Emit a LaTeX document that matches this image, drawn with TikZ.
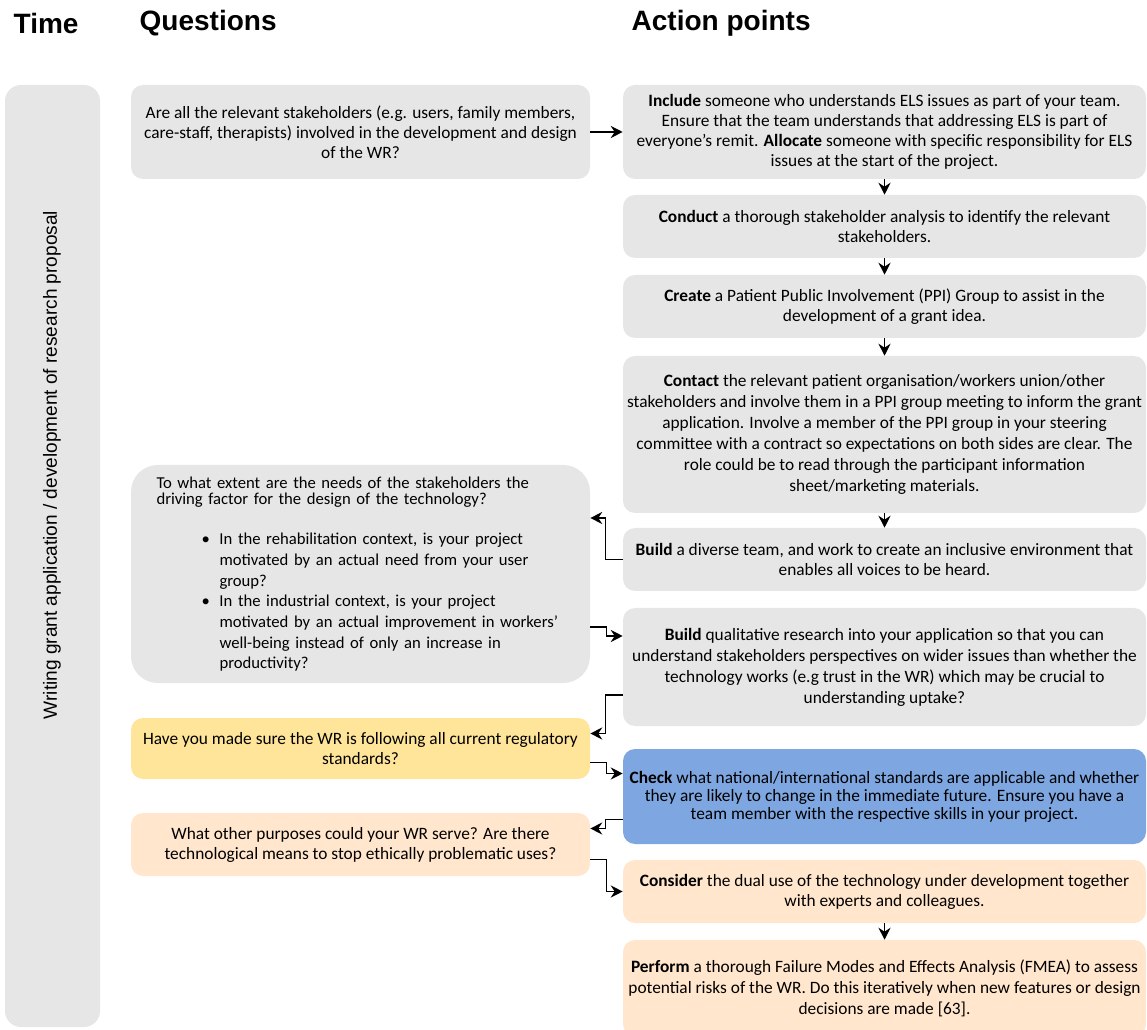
\documentclass[tikz,border=0pt]{standalone}
\usepackage{fontspec}
\setmainfont{Carlito}
\newfontfamily\headfont{Liberation Sans}
\usetikzlibrary{arrows.meta,calc}
\definecolor{boxgray}{HTML}{E6E6E6}
\definecolor{boxyellow}{HTML}{FFE599}
\definecolor{boxpeach}{HTML}{FFE6CC}
\definecolor{boxblue}{HTML}{7EA6E0}

\begin{document}
\begin{tikzpicture}[x=0.75pt,y=-0.75pt,
		box/.style={rounded corners=9pt, align=center, inner sep=0pt, font=\fontsize{13}{15}\selectfont},
		qbox/.style={box, minimum width=344.25pt},
		abox/.style={box, minimum width=392.25pt},
		head/.style={anchor=west, font=\headfont\fontsize{21}{25}\bfseries\selectfont},
		link/.style={-{Stealth[length=9pt,width=9pt,inset=3pt]}, line width=0.9pt}]
		\useasboundingbox (0,0) rectangle (1147,1030);

		% column headings
		\node[head] (timehead) at (9,23) {Time};
		\node[head] (qhead) at (135,23) {Questions};
		\node[head] (ahead) at (627,23) {Action points};

		% time column
		\node[fill=boxgray, rounded corners=12pt, minimum width=71.25pt, minimum height=706.5pt] (time) at (52.5,556) {};
		\node[rotate=90, font=\headfont\fontsize{14.3}{16}\selectfont] (phase) at (52,465) {Writing grant application / development of research proposal};

		% questions
		\node[qbox, fill=boxgray, minimum height=70.5pt] (q1) at (360.5,132)
			{Are all the relevant stakeholders (e.g. users, family members,\\ care-staff, therapists) involved in the development and design\\ of the WR?};
		\node[qbox, fill=boxgray, rounded corners=20pt, minimum height=163.5pt, align=left, text width=306pt,
			font=\fontsize{12.5}{15.5}\selectfont] (q2) at (360.5,574)
			{To what extent are the needs of the stakeholders the\\[-3.5pt]
			driving factor for the design of the technology?\\[15pt]
			\hspace*{33.75pt}\makebox[13.5pt][l]{\textbullet}In the rehabilitation context, is your project\\
			\hspace*{47.25pt}motivated by an actual need from your user\\
			\hspace*{47.25pt}group?\\
			\hspace*{33.75pt}\makebox[13.5pt][l]{\textbullet}In the industrial context, is your project\\
			\hspace*{47.25pt}motivated by an actual improvement in workers’\\
			\hspace*{47.25pt}well-being instead of only an increase in\\
			\hspace*{47.25pt}productivity?};
		\node[qbox, fill=boxyellow, minimum height=45.75pt] (q3) at (360.5,748.5)
			{Have you made sure the WR is following all current regulatory\\ standards?};
		\node[qbox, fill=boxpeach, minimum height=47.25pt] (q4) at (360.5,844.5)
			{What other purposes could your WR serve? Are there\\ technological means to stop ethically problematic uses?};

		% action points
		\node[abox, fill=boxgray, minimum height=70.5pt] (a1) at (884.5,132)
			{\textbf{Include} someone who understands ELS issues as part of your team.\\ Ensure that the team understands that addressing ELS is part of\\ everyone’s remit. \textbf{Allocate} someone with specific responsibility for ELS\\ issues at the start of the project.};
		\node[abox, fill=boxgray, minimum height=47.25pt] (a2) at (884.5,226.5)
			{\textbf{Conduct} a thorough stakeholder analysis to identify the relevant\\ stakeholders.};
		\node[abox, fill=boxgray, minimum height=47.25pt] (a3) at (884.5,306.5)
			{\textbf{Create} a Patient Public Involvement (PPI) Group to assist in the\\ development of a grant idea.};
		\node[abox, fill=boxgray, minimum height=117.75pt, font=\fontsize{13}{15.75}\selectfont] (a4) at (884.5,434.5)
			{\textbf{Contact} the relevant patient organisation/workers union/other\\ stakeholders and involve them in a PPI group meeting to inform the grant\\ application. Involve a member of the PPI group in your steering\\ committee with a contract so expectations on both sides are clear. The\\ role could be to read through the participant information\\ sheet/marketing materials.};
		\node[abox, fill=boxgray, minimum height=47.25pt] (a5) at (884.5,559.5)
			{\textbf{Build} a diverse team, and work to create an inclusive environment that\\ enables all voices to be heard.};
		\node[abox, fill=boxgray, minimum height=88.5pt, font=\fontsize{13}{15.75}\selectfont] (a6) at (884.5,667)
			{\textbf{Build} qualitative research into your application so that you can\\ understand stakeholders perspectives on wider issues than whether the\\ technology works (e.g trust in the WR) which may be crucial to\\ understanding uptake?};
		\node[abox, fill=boxblue, minimum height=71.25pt, font=\fontsize{13}{13.5}\selectfont] (a7) at (884.5,796.5)
			{\textbf{Check} what national/international standards are applicable and whether\\ they are likely to change in the immediate future. Ensure you have a\\ team member with the respective skills in your project.};
		\node[abox, fill=boxpeach, minimum height=47.25pt] (a8) at (884.5,891.5)
			{\textbf{Consider} the dual use of the technology under development together\\ with experts and colleagues.};
		\node[abox, fill=boxpeach, minimum height=72pt, font=\fontsize{13}{15.75}\selectfont] (a9) at (884.5,988)
			{\textbf{Perform} a thorough Failure Modes and Effects Analysis (FMEA) to assess\\ potential risks of the WR. Do this iteratively when new features or design\\ decisions are made [63].};

		% connectors
		\draw[link] (q1.east) -- (a1.west);
		\foreach \u/\v in {a1/a2,a2/a3,a3/a4,a4/a5,a8/a9}
			\draw[link] (\u.south) -- (\v.north);
		\draw[link] (a5.west) -- ++(-17,0) |- ($(q2.east)+(0,-56)$);
		\draw[link] ($(q2.east)+(0,53)$) -- ++(16,0) |- ($(a6.west)+(0,-31)$);
		\draw[link] ($(a6.west)+(0,28)$) -- ++(-17,0) |- ($(q3.east)+(0,-15)$);
		\draw[link] ($(q3.east)+(0,14)$) -- ++(16,0) |- ($(a7.west)+(0,-23)$);
		\draw[link] ($(a7.west)+(0,23)$) -- ++(-17,0) |- ($(q4.east)+(0,-16)$);
		\draw[link] ($(q4.east)+(0,15)$) -- ++(16,0) |- (a8.west);
	\end{tikzpicture}
\end{document}
